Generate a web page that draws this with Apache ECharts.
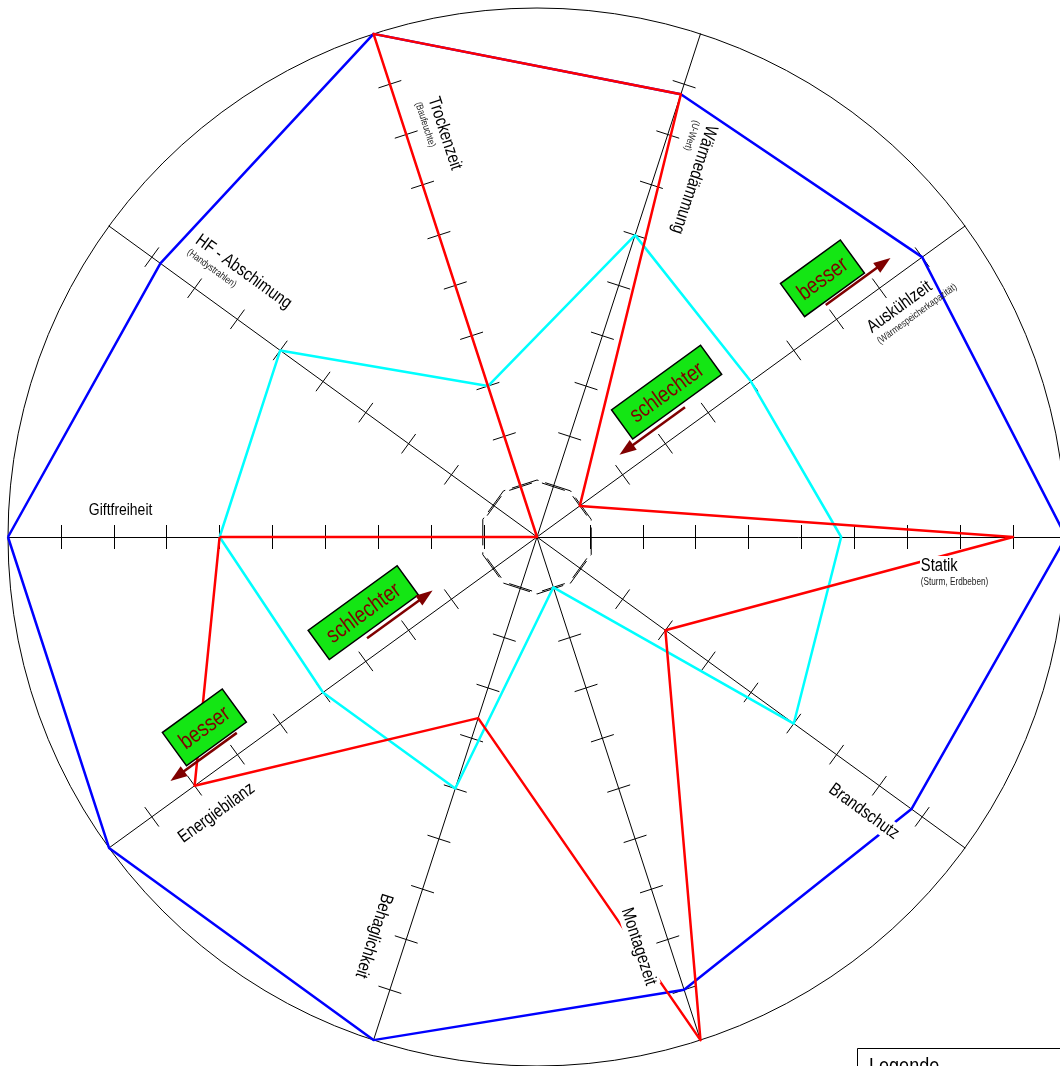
<!DOCTYPE html>
<html>
<head>
<meta charset="utf-8">
<title>Baustoff-Vergleich</title>
<script src="https://cdn.jsdelivr.net/npm/echarts@6.0.0/dist/echarts.min.js"></script>
<style>
    html, body { margin: 0; padding: 0; background: #fff; }
    #main { width: 1060px; height: 1066px; }
</style>
</head>
<body>
<div id="main"></div>
<script>
    // Achsen, gegen den Uhrzeigersinn ab links (Giftfreiheit)
    var axes = ['Giftfreiheit', 'Energiebilanz', 'Behaglichkeit', 'Montagezeit', 'Brandschutz',
                'Statik', 'Auskühlzeit', 'Wärmedämmung', 'Trockenzeit', 'HF - Abschimung'];
    var subs = ['', '', '', '', '', '(Sturm, Erdbeben)', '(Wärmespeicherkapazität)', '(U-Wert)', '(Baufeuchte)', '(Handystrahlen)'];
    var tickValues = [1, 2, 3, 4, 5, 6, 7, 8, 9];
    var blueValues = [10, 10, 10, 9, 8.75, 10, 9, 8.8, 10, 8.8];
    var redValues  = [6, 8, 3.6, 10, 3, 9, 1, 8.8, 10, 0];
    var cyanValues = [6, 5, 5, 1, 6, 5.75, 5, 6, 3, 6];

    // Lage der Beschriftungen: Abstand entlang der Achse, seitlicher Versatz, Drehung
    var labelLayout = [
        {d: 449, p: -27, rot: 0,    size: 17},
        {d: 467, p: 35,  rot: 36,   size: 18},
        {d: 385, p: -32, rot: -108, size: 18},
        {d: 380, p: -30, rot: -72,  size: 18},
        {d: 384, p: -30, rot: -36,  size: 18},
        {d: 383, p: -29, rot: 0,    size: 18},
        {d: 390, p: -27, rot: 36,   size: 18},
        {d: 446, p: -39, rot: -108, size: 18},
        {d: 451, p: -37, rot: -72,  size: 18},
        {d: 451, p: -42, rot: -36,  size: 18}
    ];

    var cx = 537, cy = 537, R = 529;
    var FONT = '"Liberation Sans", Arial, sans-serif';
    var NARROW = 0.82;   // keine Narrow-Schrift vorhanden, daher gestaucht
    var DARKRED = '#800000';
    var TOP = 100;       // über den Linien

    var chart = echarts.init(document.getElementById('main'));

    function indicators() {
        return axes.map(function (n) { return {name: n, min: 0, max: 10}; });
    }
    function baseRadar(extra) {
        return Object.assign({
            indicator: indicators(),
            center: [cx, cy],
            radius: R,
            startAngle: 180,
            splitNumber: 10,
            shape: 'circle',
            axisName: {show: false},
            axisLine: {show: false},
            axisTick: {show: false},
            axisLabel: {show: false},
            splitLine: {show: false},
            splitArea: {show: false}
        }, extra);
    }

    // Punkt auf Achse i: d entlang, p seitlich
    function axisPoint(i, d, p) {
        var a = (180 + 36 * i) * Math.PI / 180;
        return [cx + d * Math.cos(a) - p * Math.sin(a), cy - d * Math.sin(a) - p * Math.cos(a)];
    }

    var graphics = [];

    // Achsenbeschriftungen
    axes.forEach(function (name, i) {
        var L = labelLayout[i];
        var pt = axisPoint(i, L.d, L.p);
        var children = [{
            type: 'text', x: 0, y: 0, z: TOP,
            style: {text: name, fill: '#000', fontSize: L.size, fontFamily: FONT,
                    align: 'left', verticalAlign: 'middle', backgroundColor: '#fff', padding: [1, 1]}
        }];
        if (subs[i]) {
            children.push({
                type: 'text', x: 1, y: 16, z: TOP,
                style: {text: subs[i], fill: '#222', fontSize: 10, fontFamily: FONT,
                        align: 'left', verticalAlign: 'middle'}
            });
        }
        graphics.push({type: 'group', x: pt[0], y: pt[1], rotation: L.rot * Math.PI / 180,
                       scaleX: NARROW, z: TOP, children: children});
    });

    // besser / schlechter Hinweise (parallel zur Achse Auskühlzeit / Energiebilanz)
    var notes = [
        {text: 'besser', c: 383, w: 74, y: -62, h: 41, from: 370, to: 450},
        {text: 'schlechter', c: 190, w: 110, y: -59, h: 36, from: 196, to: 115},
        {text: 'schlechter', c: -185, w: 110, y: -59, h: 36, from: -197, to: -116},
        {text: 'besser', c: -381, w: 74, y: -62, h: 41, from: -358, to: -440}
    ];
    var noteEls = [];
    notes.forEach(function (n) {
        var s = n.to > n.from ? 1 : -1;
        noteEls.push({
            type: 'rect', z: TOP, shape: {x: n.c - n.w / 2, y: n.y, width: n.w, height: n.h},
            style: {fill: '#14e614', stroke: '#000', lineWidth: 1.5}
        });
        noteEls.push({
            type: 'text', z: TOP + 1, x: n.c, y: n.y + n.h / 2 + 1, scaleX: NARROW,
            style: {text: n.text, fill: DARKRED, fontSize: 23, fontFamily: FONT, align: 'center', verticalAlign: 'middle'}
        });
        noteEls.push({
            type: 'line', z: TOP, shape: {x1: n.from, y1: -18, x2: n.to - s * 12, y2: -18},
            style: {stroke: DARKRED, lineWidth: 2.5}
        });
        noteEls.push({
            type: 'polygon', z: TOP, shape: {points: [[n.to, -18], [n.to - s * 17, -24], [n.to - s * 17, -12]]},
            style: {fill: DARKRED}
        });
    });
    graphics.push({type: 'group', x: cx, y: cy, rotation: 36 * Math.PI / 180, z: TOP, children: noteEls});

    // Legendenkasten (unten rechts, abgeschnitten)
    graphics.push({type: 'rect', z: TOP, shape: {x: 857.5, y: 1048.5, width: 260, height: 60},
                   style: {fill: '#fff', stroke: '#000', lineWidth: 1}});
    graphics.push({type: 'text', z: TOP + 1, x: 869, y: 1056, scaleX: NARROW,
                   style: {text: 'Legende', fill: '#000', fontSize: 22, fontFamily: FONT, align: 'left', verticalAlign: 'top'}});

    var option = {
        backgroundColor: '#fff',
        animation: false,
        radar: [
            // Achsen mit Strichen auf einer Seite
            baseRadar({
                axisLine: {show: true, lineStyle: {color: '#000', width: 1}},
                axisTick: {show: true, length: 12, customValues: tickValues, lineStyle: {color: '#000', width: 1}}
            }),
            // Striche auf der anderen Seite
            baseRadar({
                axisTick: {show: true, length: -12, customValues: tickValues, lineStyle: {color: '#000', width: 1}}
            }),
            // Aussenkreis
            baseRadar({
                splitNumber: 1,
                splitLine: {show: true, lineStyle: {color: '#000', width: 1}}
            }),
            // gestricheltes Zehneck in der Mitte
            baseRadar({
                radius: 57,
                startAngle: 198,
                splitNumber: 1,
                shape: 'polygon',
                splitLine: {show: true, lineStyle: {color: '#000', width: 1, type: [28, 7]}}
            })
        ],
        graphic: graphics,
        series: [
            {
                type: 'radar', radarIndex: 0, symbol: 'none', z: 3,
                lineStyle: {color: '#0000ff', width: 2.5},
                data: [{value: blueValues, name: 'blau'}]
            },
            {
                type: 'radar', radarIndex: 0, symbol: 'none', z: 4,
                lineStyle: {color: '#00ffff', width: 2.5},
                data: [{value: cyanValues, name: 'cyan'}]
            },
            {
                type: 'radar', radarIndex: 0, symbol: 'none', z: 5,
                lineStyle: {color: '#ff0000', width: 2.5},
                data: [{value: redValues, name: 'rot'}]
            }
        ]
    };
    chart.setOption(option);
    window.onresize = chart.resize;
</script>
</body>
</html>
